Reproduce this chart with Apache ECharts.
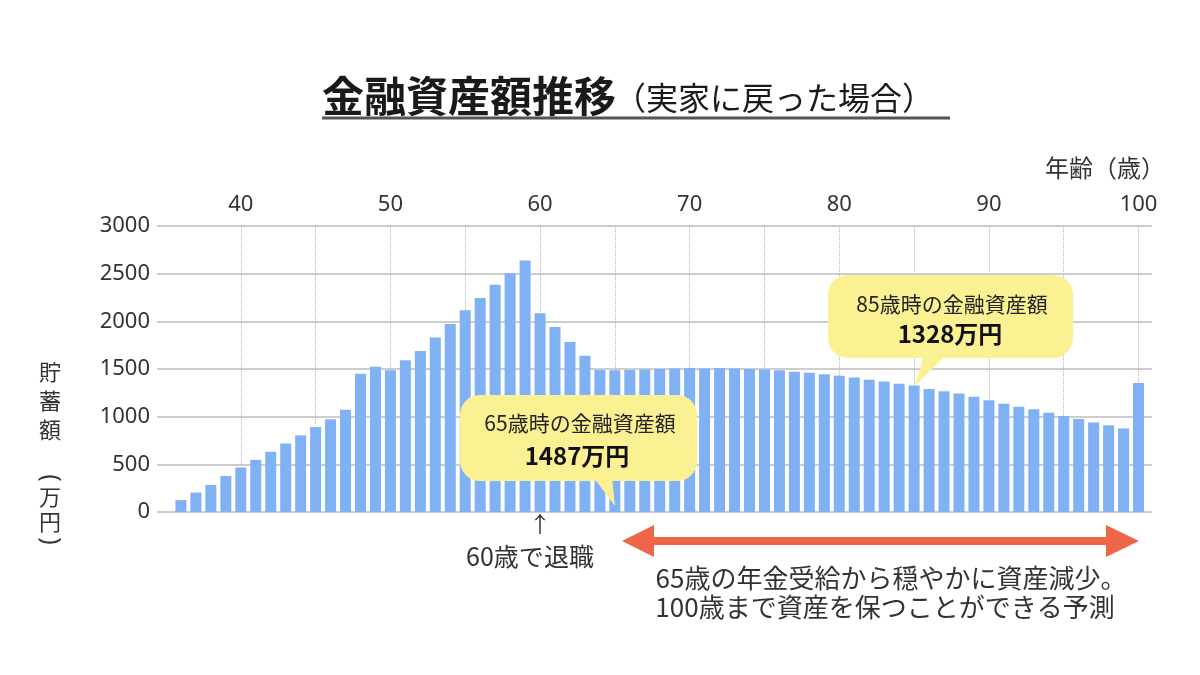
<!DOCTYPE html>
<html>
<head>
<meta charset="utf-8">
<script src="https://cdn.jsdelivr.net/npm/echarts@6/dist/echarts.min.js"></script>
<style>html,body{margin:0;padding:0;background:#fff}#c{width:1200px;height:675px}</style>
</head>
<body>
<div id="c"></div>
<script>
// ---- data ----
const ages = [36,37,38,39,40,41,42,43,44,45,46,47,48,49,50,51,52,53,54,55,56,57,58,59,60,
  61,62,63,64,65,66,67,68,69,70,71,72,73,74,75,76,77,78,79,80,81,82,83,84,85,86,87,88,89,90,
  91,92,93,94,95,96,97,98,99,100];
const savings = [125,204,284,378,467,547,631,719,804,891,972,1073,1449,1523,1488,1593,1688,1831,1972,2115,2246,2383,2505,2638,2084,
  1940,1783,1640,1489,1487,1490,1495,1500,1505,1510,1505,1510,1505,1500,1495,1487,1472,1460,1446,1428,1410,1386,1368,1344,1328,1291,1267,1242,1210,1172,
  1136,1105,1077,1042,1007,975,940,909,877,1354];
const labelAges = [40,50,60,70,80,90,100];
const gridAges = [40,45,50,55,60,65,70,75,80,85,90,95,100];
const yTicks = [0,500,1000,1500,2000,2500,3000];

const FONT = "'Noto Sans', 'Noto Sans CJK JP', sans-serif";
const CJK = "'Noto Sans CJK JP', sans-serif";
const YELLOW = '#fbf193';
const ARROW = '#ee6648';

const chart = echarts.init(document.getElementById('c'), null, {renderer: 'canvas'});

function vText(ch, x, y) {
  return {type: 'text', z: 100, x: x, y: y,
    style: {text: ch, font: '22px ' + CJK, fill: '#333', align: 'center', verticalAlign: 'middle'}};
}
function vParen(ch, x, y) {
  return {type: 'group', x: x, y: y, rotation: -Math.PI / 2, z: 100,
    children: [{type: 'text', z: 100, x: 0, y: 0,
      style: {text: ch, font: "25px 'Noto Sans'", fill: '#333', align: 'center', verticalAlign: 'middle'}}]};
}
function g(el) { el.z = 100; return el; }

const option = {
  backgroundColor: '#ffffff',
  animation: false,
  grid: {left: 157, right: 48, top: 226, bottom: 163},
  xAxis: {
    type: 'value', position: 'top',
    min: 34.4, max: 100.9, minInterval: 5, maxInterval: 5,
    axisLine: {show: false}, axisTick: {show: false}, splitLine: {show: false},
    axisLabel: {
      margin: 10, fontSize: 22, color: '#333', fontFamily: FONT,
      formatter: v => labelAges.indexOf(v) >= 0 ? String(v) : ''
    }
  },
  yAxis: {
    type: 'value', min: yTicks[0], max: yTicks[yTicks.length - 1], interval: 500,
    axisLine: {show: false}, axisTick: {show: false},
    axisLabel: {margin: 7, fontSize: 22, color: '#333', fontFamily: FONT, formatter: v => String(v)},
    splitLine: {lineStyle: {color: '#bdbdbd', width: 1.5}}
  },
  series: [
    {
      type: 'line', data: [], silent: true,
      markLine: {
        silent: true, z: 1, symbol: ['none', 'none'], label: {show: false},
        lineStyle: {type: 'dotted', color: '#b5b5b5', width: 1},
        emphasis: {disabled: true},
        data: gridAges.map(a => ({xAxis: a}))
      }
    },
    {
      type: 'bar', z: 2, barWidth: 11,
      itemStyle: {color: '#80b1f4'},
      data: ages.map((a, i) => [a, savings[i]])
    }
  ],
  graphic: [
    // title
    g({type: 'text', x: 322, y: 96, style: {text: '金融資産額推移', font: 'bold 42px ' + CJK, fill: '#1a1a1a', verticalAlign: 'middle'}}),
    g({type: 'text', x: 614, y: 98, style: {text: '（実家に戻った場合）', font: '32px ' + CJK, fill: '#1a1a1a', verticalAlign: 'middle'}}),
    g({type: 'line', shape: {x1: 322, y1: 118, x2: 950, y2: 118}, style: {stroke: '#555', lineWidth: 3}}),
    // axis names
    g({type: 'text', x: 1165, y: 168, style: {text: '年齢（歳）', font: '24px ' + CJK, fill: '#333', align: 'right', verticalAlign: 'middle'}}),
    vText('貯', 50, 372), vText('蓄', 50, 401), vText('額', 50, 430),
    vParen('(', 50, 478), vText('万', 50, 497), vText('円', 50, 522), vParen(')', 50, 541),
    // callout 65
    g({type: 'rect', shape: {x: 460, y: 395, width: 237, height: 86, r: 20}, style: {fill: YELLOW}}),
    g({type: 'polygon', shape: {points: [[594, 478], [612, 478], [615, 506]]}, style: {fill: YELLOW}}),
    g({type: 'text', x: 580, y: 423, style: {text: '65歳時の金融資産額', font: '21px ' + CJK, fill: '#222', align: 'center', verticalAlign: 'middle'}}),
    g({type: 'text', x: 577, y: 456, style: {text: '1487万円', font: 'bold 24px ' + CJK, fill: '#111', align: 'center', verticalAlign: 'middle'}}),
    // callout 85
    g({type: 'rect', shape: {x: 828, y: 275, width: 245, height: 83, r: 20}, style: {fill: YELLOW}}),
    g({type: 'polygon', shape: {points: [[924, 355], [946, 355], [915, 386]]}, style: {fill: YELLOW}}),
    g({type: 'text', x: 952, y: 304, style: {text: '85歳時の金融資産額', font: '21px ' + CJK, fill: '#222', align: 'center', verticalAlign: 'middle'}}),
    g({type: 'text', x: 950, y: 334, style: {text: '1328万円', font: 'bold 24px ' + CJK, fill: '#111', align: 'center', verticalAlign: 'middle'}}),
    // retirement note
    g({type: 'text', x: 540, y: 524, style: {text: '↑', font: '22px ' + CJK, fill: '#333', align: 'center', verticalAlign: 'middle'}}),
    g({type: 'text', x: 530, y: 556, style: {text: '60歳で退職', font: '25px ' + CJK, fill: '#333', align: 'center', verticalAlign: 'middle'}}),
    // double arrow
    g({type: 'polygon', shape: {points: [[622, 541], [654, 525], [654, 537], [1106, 537], [1106, 525], [1139, 541], [1106, 557], [1106, 545], [654, 545], [654, 557]]}, style: {fill: ARROW}}),
    g({type: 'text', x: 891, y: 578, style: {text: '65歳の年金受給から穏やかに資産減少。', font: '26px ' + CJK, fill: '#333', align: 'center', verticalAlign: 'middle'}}),
    g({type: 'text', x: 885, y: 607, style: {text: '100歳まで資産を保つことができる予測', font: '26px ' + CJK, fill: '#333', align: 'center', verticalAlign: 'middle'}})
  ]
};
chart.setOption(option);
</script>
</body>
</html>
